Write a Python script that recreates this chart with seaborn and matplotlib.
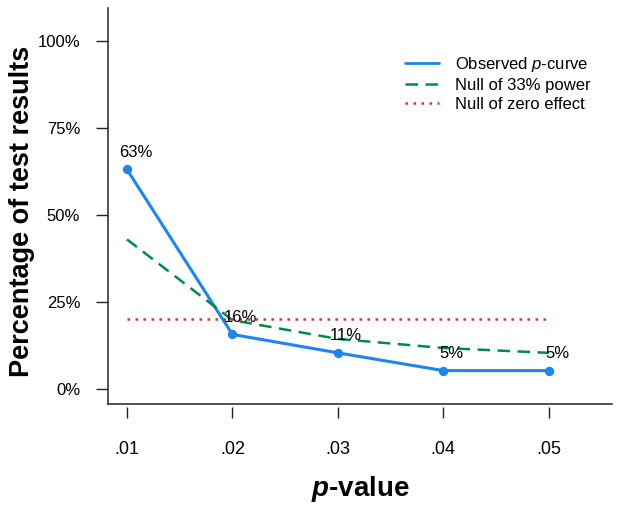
import numpy as np
import pandas as pd
import matplotlib
matplotlib.use("Agg")
import matplotlib.pyplot as plt
from matplotlib.lines import Line2D
import seaborn as sns

# p-curve data (percent of significant results in each p-value bin)
p_values = [0.01, 0.02, 0.03, 0.04, 0.05]
observed = [63.1, 15.7, 10.4, 5.3, 5.3]
null_33 = [43.0, 19.8, 14.4, 11.8, 10.4]
null_zero = [20, 20, 20, 20, 20]
obs_labels = ["63%", "16%", "11%", "5%", "5%"]
y_ticks = [0, 25, 50, 75, 100]
x_ticklabels = [".01", ".02", ".03", ".04", ".05"]

sns.set_style("ticks")
plt.rcParams["font.family"] = ["Liberation Sans", "DejaVu Sans"]
plt.rcParams["mathtext.fontset"] = "custom"
plt.rcParams["mathtext.it"] = "Liberation Sans:italic"
plt.rcParams["mathtext.bf"] = "Liberation Sans:italic:bold"
plt.rcParams["text.color"] = "black"
plt.rcParams["axes.labelcolor"] = "black"

df = pd.DataFrame({"p": p_values, "obs": observed, "n33": null_33, "n0": null_zero})

blue, green, red = "#1C86EE", "#008B45", "#EE2C2C"

fig = plt.figure(figsize=(6.29, 5.08), dpi=100)
ax = fig.add_axes([0.1717, 0.2047, 0.8013, 0.7795])

sns.lineplot(data=df, x="p", y="obs", ax=ax, color=blue, lw=2.2)
sns.scatterplot(data=df, x="p", y="obs", ax=ax, color=blue, s=45, linewidth=0, zorder=3)
sns.lineplot(data=df, x="p", y="n33", ax=ax, color=green, lw=1.8, dashes=(5, 3))
sns.lineplot(data=df, x="p", y="n0", ax=ax, color=red, lw=1.8, dashes=(1, 2.2))

for xv, yv, lab in zip(p_values, observed, obs_labels):
    ax.text(xv + 0.0008, yv + 5, lab, ha="center", va="center", fontsize=12, color="black")

ax.set_xlim(0.0082, 0.056)
ax.set_ylim(-4.3, 109.5)
ax.set_yticks(y_ticks)
ax.set_yticklabels([f"{t}%" for t in y_ticks], fontsize=12, color="black")
ax.tick_params(axis="y", length=9, width=1, pad=11, color="#222222")

# x ticks drawn slightly below the axis line (R style)
ax.set_xticks([])
sec = ax.secondary_xaxis(-0.008)
sec.set_xticks(p_values)
sec.set_xticklabels(x_ticklabels, fontsize=13, color="black")
sec.tick_params(axis="x", length=8, width=1, pad=16, color="#222222")
sec.spines["bottom"].set_visible(False)
sec.set_xlabel(r"$\mathbf{p}$-value", fontsize=20, fontweight="bold", labelpad=12, color="black")

ax.set_xlabel("")
ax.set_ylabel("Percentage of test results", fontsize=19.5, fontweight="bold", color="black")
ax.yaxis.set_label_coords(-0.145, 0.487)

for s in ["top", "right"]:
    ax.spines[s].set_visible(False)
for s in ["left", "bottom"]:
    ax.spines[s].set_linewidth(1.1)
    ax.spines[s].set_color("#222222")

handles = [Line2D([], [], color=blue, lw=2),
           Line2D([], [], color=green, lw=1.8, dashes=(5, 3)),
           Line2D([], [], color=red, lw=1.8, dashes=(1, 2.2))]
labels = ["Observed $p$-curve", "Null of 33% power", "Null of zero effect"]
ax.legend(handles, labels, loc="upper left", bbox_to_anchor=(0.56, 0.92), frameon=False,
          fontsize=12, handlelength=2.0, handletextpad=1.0, labelspacing=0.25)

fig.savefig("out.png", dpi=100)
